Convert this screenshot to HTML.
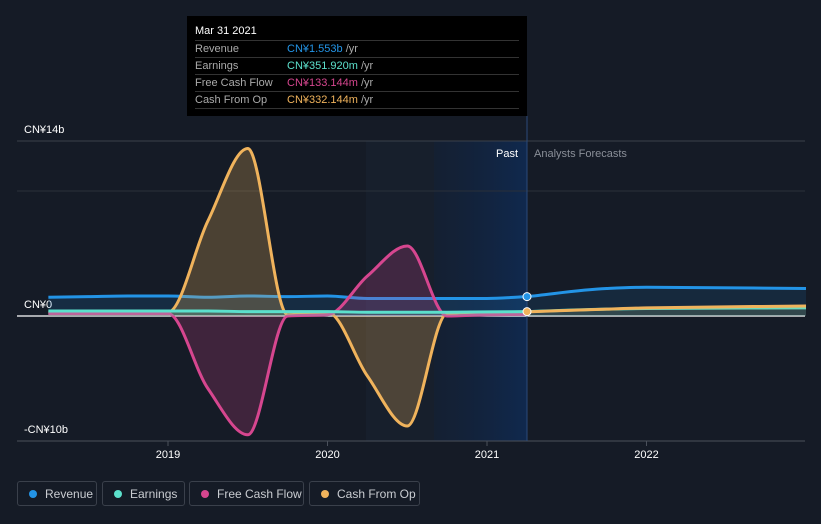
<!DOCTYPE html>
<html><head><meta charset="utf-8"><style>
body{margin:0;background:#151b26;width:821px;height:524px;overflow:hidden;font-family:"Liberation Sans","Noto Sans CJK SC",sans-serif;}
svg{position:absolute;left:0;top:0}
.tip{position:absolute;left:187px;top:16px;width:340px;height:100px;background:#000;color:#fff;font-size:11px}
.tip .h{position:absolute;left:8px;top:9px;font-size:11px}
.row{position:absolute;left:8px;width:324px;height:16px;border-top:1px solid #333;line-height:16px}
.row span.l{color:#aaa;position:absolute;left:0}
.row span.v{position:absolute;left:92px}
.leg{position:absolute;top:481px;height:25px;border:1px solid #3a404b;border-radius:3px;color:#c9ccd1;font-size:12px;line-height:25px;box-sizing:border-box}
.leg i{position:absolute;left:11px;top:8px;width:8px;height:8px;border-radius:50%}
.leg span{position:absolute;left:27px}
</style></head><body>
<svg id="c" width="821" height="524">
<defs><linearGradient id="pg" x1="0" x2="1" y1="0" y2="0"><stop offset="0" stop-color="#0f2240" stop-opacity="0.3"/><stop offset="1" stop-color="#0f2a52" stop-opacity="0.9"/></linearGradient></defs>
</svg>
<div class="tip">
<div class="h">Mar 31 2021</div>
<div class="row" style="top:24px"><span class="l">Revenue</span><span class="v" style="color:#2394e6">CN¥1.553b <span style="color:#aaa">/yr</span></span></div>
<div class="row" style="top:41px"><span class="l">Earnings</span><span class="v" style="color:#5ce0cc">CN¥351.920m <span style="color:#aaa">/yr</span></span></div>
<div class="row" style="top:58px"><span class="l">Free Cash Flow</span><span class="v" style="color:#d6468f">CN¥133.144m <span style="color:#aaa">/yr</span></span></div>
<div class="row" style="top:75px;border-bottom:1px solid #333"><span class="l">Cash From Op</span><span class="v" style="color:#f0b35c">CN¥332.144m <span style="color:#aaa">/yr</span></span></div>
</div>
<div class="leg" style="left:17px;width:80px"><i style="background:#2394e6"></i><span>Revenue</span></div>
<div class="leg" style="left:102px;width:83px"><i style="background:#5ce0cc"></i><span>Earnings</span></div>
<div class="leg" style="left:189px;width:115px"><i style="background:#d6468f"></i><span>Free Cash Flow</span></div>
<div class="leg" style="left:309px;width:111px"><i style="background:#f0b35c"></i><span>Cash From Op</span></div>
<script>
const pastT=[2018.25,2018.5,2018.75,2019,2019.25,2019.5,2019.75,2020,2020.25,2020.5,2020.75,2021,2021.25];
const revenue=[1.5,1.55,1.6,1.6,1.5,1.6,1.55,1.6,1.4,1.4,1.4,1.4,1.55];
const earnings=[0.4,0.4,0.4,0.4,0.4,0.35,0.35,0.35,0.3,0.3,0.3,0.33,0.35];
const fcf=[0.2,0.2,0.2,0.2,-5.8,-9.5,0,0.1,3.2,5.6,0,0.1,0.13];
const cfo=[0.3,0.3,0.3,0.3,7.6,13.4,0.1,0.3,-4.8,-8.8,0.2,0.3,0.33];
const fcT=[2021.25,2021.75,2022,2023];
const revF=[1.55,2.2,2.3,2.2];
const earnF=[0.35,0.55,0.6,0.65];
const cfoF=[0.33,0.55,0.65,0.8];
const yTicks=[14,0,-10],yLabels=["CN¥14b","CN¥0","-CN¥10b"];
const xTicks=[2019,2020,2021,2022];
const X=t=>168+(t-2019)*159.5, Y=v=>316-v*12.5;
const svg=document.getElementById('c');const NS='http://www.w3.org/2000/svg';
function el(tag,a,p){const e=document.createElementNS(NS,tag);for(const k in a)e.setAttribute(k,a[k]);(p||svg).appendChild(e);return e;}
function mono(xs,ys){const n=xs.length,d=[],m=[];for(let i=0;i<n-1;i++)d.push((ys[i+1]-ys[i])/(xs[i+1]-xs[i]));
m[0]=d[0];m[n-1]=d[n-2];for(let i=1;i<n-1;i++){m[i]=0;if(d[i-1]*d[i]>0){const w1=2*(xs[i+1]-xs[i])+(xs[i]-xs[i-1]),w2=(xs[i+1]-xs[i])+2*(xs[i]-xs[i-1]);m[i]=(w1+w2)/(w1/d[i-1]+w2/d[i]);}}
let s='M'+xs[0]+','+ys[0];for(let i=0;i<n-1;i++){const h=(xs[i+1]-xs[i])/3;s+=' C'+(xs[i]+h)+','+(ys[i]+m[i]*h)+' '+(xs[i+1]-h)+','+(ys[i+1]-m[i+1]*h)+' '+xs[i+1]+','+ys[i+1];}return s;}
const sr=el('rect',{x:366,y:141,width:161,height:300,fill:'#18202e',opacity:0.8});

const sr2=el('rect',{x:434,y:141,width:93,height:300,fill:'url(#pg)'});

yTicks.forEach((v,i)=>{const g=el('line',{x1:17,x2:805,y1:Y(v),y2:Y(v),stroke:v==0?'#fff':'#3a404b','stroke-width':v==0?1.2:1});

const t=el('text',{x:24,y:Y(v)-8,fill:'#fff','font-size':11});t.textContent=yLabels[i];
});
const mid=el('line',{x1:17,x2:805,y1:Y(10),y2:Y(10),stroke:'#2a303a'});

const bl=el('line',{x1:17,x2:805,y1:Y(-10),y2:Y(-10),stroke:'#4a505b'});

xTicks.forEach(t=>{const l=el('line',{x1:X(t),x2:X(t),y1:441,y2:446,stroke:'#4a505b'});

const tx=el('text',{x:X(t),y:458,fill:'#fff','font-size':11,'text-anchor':'middle'});tx.textContent=t;
});
function series(ts,vs,color,name,op){const xs=ts.map(X),ys=vs.map(Y);const p=mono(xs,ys);
const a=el('path',{d:p+' L'+xs[xs.length-1]+','+Y(0)+' L'+xs[0]+','+Y(0)+'Z',fill:color,'fill-opacity':op});

const l=el('path',{d:p,fill:'none',stroke:color,'stroke-width':3});
}
series(pastT,revenue,'#2394e6','revenue',0.15);
series(fcT,revF,'#2394e6','revenue-forecast',0.12);
series(pastT,cfo,'#f0b35c','cash-from-op',0.25);
series(pastT,fcf,'#d6468f','free-cash-flow',0.22);
series(pastT,earnings,'#5ce0cc','earnings',0.2);
series(fcT,earnF,'#5ce0cc','earnings-forecast',0.1);
series(fcT,cfoF,'#f0b35c','cash-from-op-forecast',0.1);
const vl=el('line',{x1:527,x2:527,y1:116,y2:441,stroke:'#2a4a7a'});

[[1.55,'#2394e6'],[0.35,'#f0b35c']].forEach(d=>{const c=el('circle',{cx:527,cy:Y(d[0]),r:4,fill:d[1],stroke:'#fff','stroke-width':1});
});
const p1=el('text',{x:518,y:157,fill:'#fff','font-size':11,'text-anchor':'end'});p1.textContent='Past';

const p2=el('text',{x:534,y:157,fill:'#8a8f98','font-size':11});p2.textContent='Analysts Forecasts';

</script>
</body></html>
